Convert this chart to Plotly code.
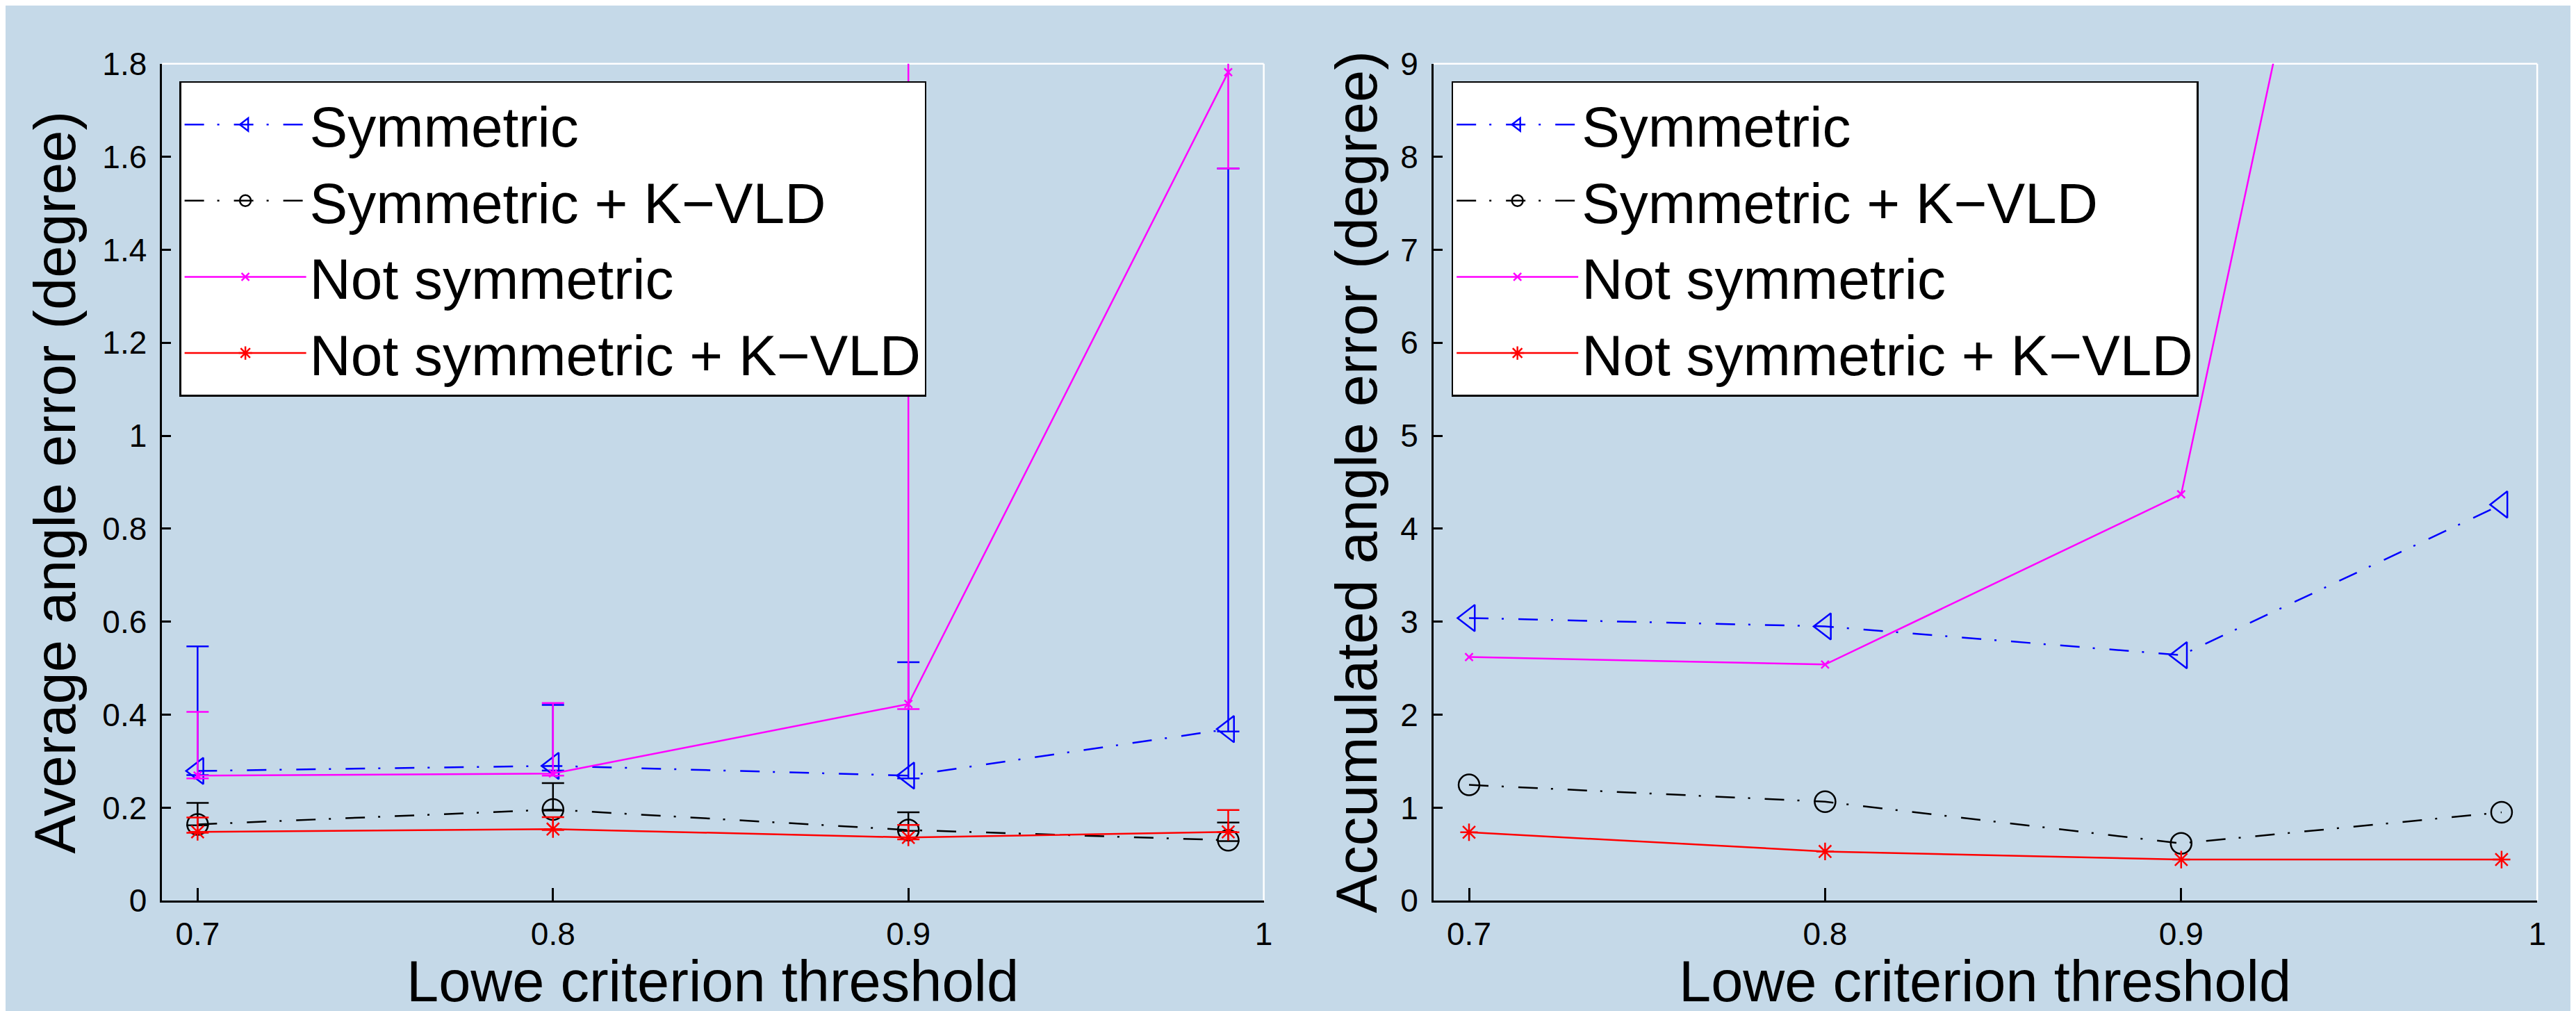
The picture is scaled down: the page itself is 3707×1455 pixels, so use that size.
import plotly.graph_objects as go

# ---- data ----
thresholds = [0.7, 0.8, 0.9, 0.99]

# left panel: average angle error (degree) with min/max bars
sym_avg = [0.279, 0.290, 0.269, 0.369]
sym_hi = [0.547, 0.421, 0.513, 1.575]
sym_lo = [0.270, 0.280, 0.263, 0.364]

symk_avg = [0.164, 0.196, 0.152, 0.130]
symk_hi = [0.2105, 0.253, 0.190, 0.168]
symk_lo = [0.162, 0.194, 0.150, 0.128]

not_avg = [0.269, 0.2735, 0.423, 1.782]
not_hi = [0.406, 0.425, 2.600, 2.400]
not_lo = [0.263, 0.269, 0.412, 1.575]

notk_avg = [0.148, 0.154, 0.136, 0.148]
notk_hi = [0.179, 0.1795, 0.163, 0.195]
notk_lo = [0.146, 0.152, 0.132, 0.147]

# right panel: accumulated angle error (degree)
sym_acc = [3.04, 2.95, 2.64, 4.26]
symk_acc = [1.245, 1.064, 0.616, 0.95]
not_acc = [2.62, 2.54, 4.37, 20.5]
notk_acc = [0.736, 0.529, 0.442, 0.442]

names = ["Symmetric", "Symmetric + K\u2212VLD", "Not symmetric", "Not symmetric + K\u2212VLD"]
x_ticks = [0.7, 0.8, 0.9, 1.0]
x_ticktext = ["0.7", "0.8", "0.9", "1"]

# ---- styles ----
BG = "#c5d9e8"
FONT = "Liberation Sans"
DASHDOT = "28px,19px,3px,21px"
LW = 2.5
styles = [
    dict(color="#0000ff", symbol="triangle-left-open", size=33, dash=DASHDOT),
    dict(color="#000000", symbol="circle-open", size=30, dash=DASHDOT),
    dict(color="#ff00ff", symbol="x-thin-open", size=11, dash="solid"),
    dict(color="#ff0000", symbol="asterisk-open", size=21, dash="solid"),
]

left_series = [
    (sym_avg, sym_hi, sym_lo),
    (symk_avg, symk_hi, symk_lo),
    (not_avg, not_hi, not_lo),
    (notk_avg, notk_hi, notk_lo),
]
right_series = [sym_acc, symk_acc, not_acc, notk_acc]

fig = go.Figure()

for (avg, hi, lo), st, nm in zip(left_series, styles, names):
    fig.add_trace(go.Scatter(
        x=thresholds, y=avg, name=nm, mode="lines+markers",
        line=dict(color=st["color"], width=LW, dash=st["dash"]),
        marker=dict(symbol=st["symbol"], size=st["size"], color=st["color"],
                    line=dict(color=st["color"], width=LW)),
        error_y=dict(type="data", symmetric=False,
                     array=[h - a for h, a in zip(hi, avg)],
                     arrayminus=[a - l for a, l in zip(avg, lo)],
                     color=st["color"], thickness=LW, width=16),
        xaxis="x", yaxis="y", legend="legend", cliponaxis=True,
    ))

for vals, st, nm in zip(right_series, styles, names):
    fig.add_trace(go.Scatter(
        x=thresholds, y=vals, name=nm, mode="lines+markers",
        line=dict(color=st["color"], width=LW, dash=st["dash"]),
        marker=dict(symbol=st["symbol"], size=st["size"], color=st["color"],
                    line=dict(color=st["color"], width=LW)),
        xaxis="x2", yaxis="y2", legend="legend2", cliponaxis=True,
    ))

W, H = 3707, 1455
L1, R1 = 226, 1817
L2, R2 = 2062, 3656
TOP, BOT = 60, 1309

axis_common = dict(
    showline=True, linecolor="black", linewidth=LW, mirror=False,
    ticks="inside", tickwidth=LW, tickcolor="black",
    showgrid=False, zeroline=False,
    tickfont=dict(family=FONT, size=46, color="black"),
)
xaxis_common = dict(range=[0.69, 1.0], tickvals=x_ticks, ticktext=x_ticktext,
                    ticklen=18, ticklabelstandoff=6, **axis_common)
yaxis_common = dict(domain=[1 - BOT / H, 1 - TOP / H], ticklen=13,
                    ticklabelstandoff=10, **axis_common)

legend_common = dict(
    xanchor="left", yanchor="top", bgcolor="white", bordercolor="black",
    borderwidth=2.5, font=dict(family=FONT, size=82, color="black"),
    tracegroupgap=0, itemwidth=175,
)

fig.update_layout(
    width=W, height=H, margin=dict(l=0, r=0, t=0, b=0),
    paper_bgcolor=BG, plot_bgcolor=BG, showlegend=True,
    xaxis=dict(domain=[L1 / W, R1 / W], anchor="y", **xaxis_common),
    yaxis=dict(range=[0, 1.8], dtick=0.2, anchor="x", **yaxis_common),
    xaxis2=dict(domain=[L2 / W, R2 / W], anchor="y2", **xaxis_common),
    yaxis2=dict(range=[0, 9], dtick=1, anchor="x2", **yaxis_common),
    legend=dict(x=251 / W, y=1 - 86 / H, **legend_common),
    legend2=dict(x=2088 / W, y=1 - 86 / H, **legend_common),
)

# white top/right box edges
for xr, yr in (("x domain", "y domain"), ("x2 domain", "y2 domain")):
    fig.add_shape(type="line", xref=xr, yref=yr, x0=0, x1=1, y0=1, y1=1,
                  line=dict(color="white", width=LW), layer="below")
    fig.add_shape(type="line", xref=xr, yref=yr, x0=1, x1=1, y0=0, y1=1,
                  line=dict(color="white", width=LW), layer="below")

title_font = dict(family=FONT, size=83, color="black")
for cx, txt in (((L1 + R1) / 2, "Lowe criterion threshold"),
                ((L2 + R2) / 2, "Lowe criterion threshold")):
    fig.add_annotation(text=txt, xref="paper", yref="paper",
                       x=cx / W, y=1 - 1380 / H, xanchor="center", yanchor="top",
                       showarrow=False, font=title_font, borderpad=0)
for cx, txt in ((71, "Average angle error (degree)"),
                (1951, "Accumulated angle error (degree)")):
    fig.add_annotation(text=txt, xref="paper", yref="paper",
                       x=cx / W, y=1 - (TOP + BOT) / 2 / H, xanchor="center",
                       yanchor="middle", textangle=-90, showarrow=False,
                       font=title_font, borderpad=0)

fig.write_html("out.html")
